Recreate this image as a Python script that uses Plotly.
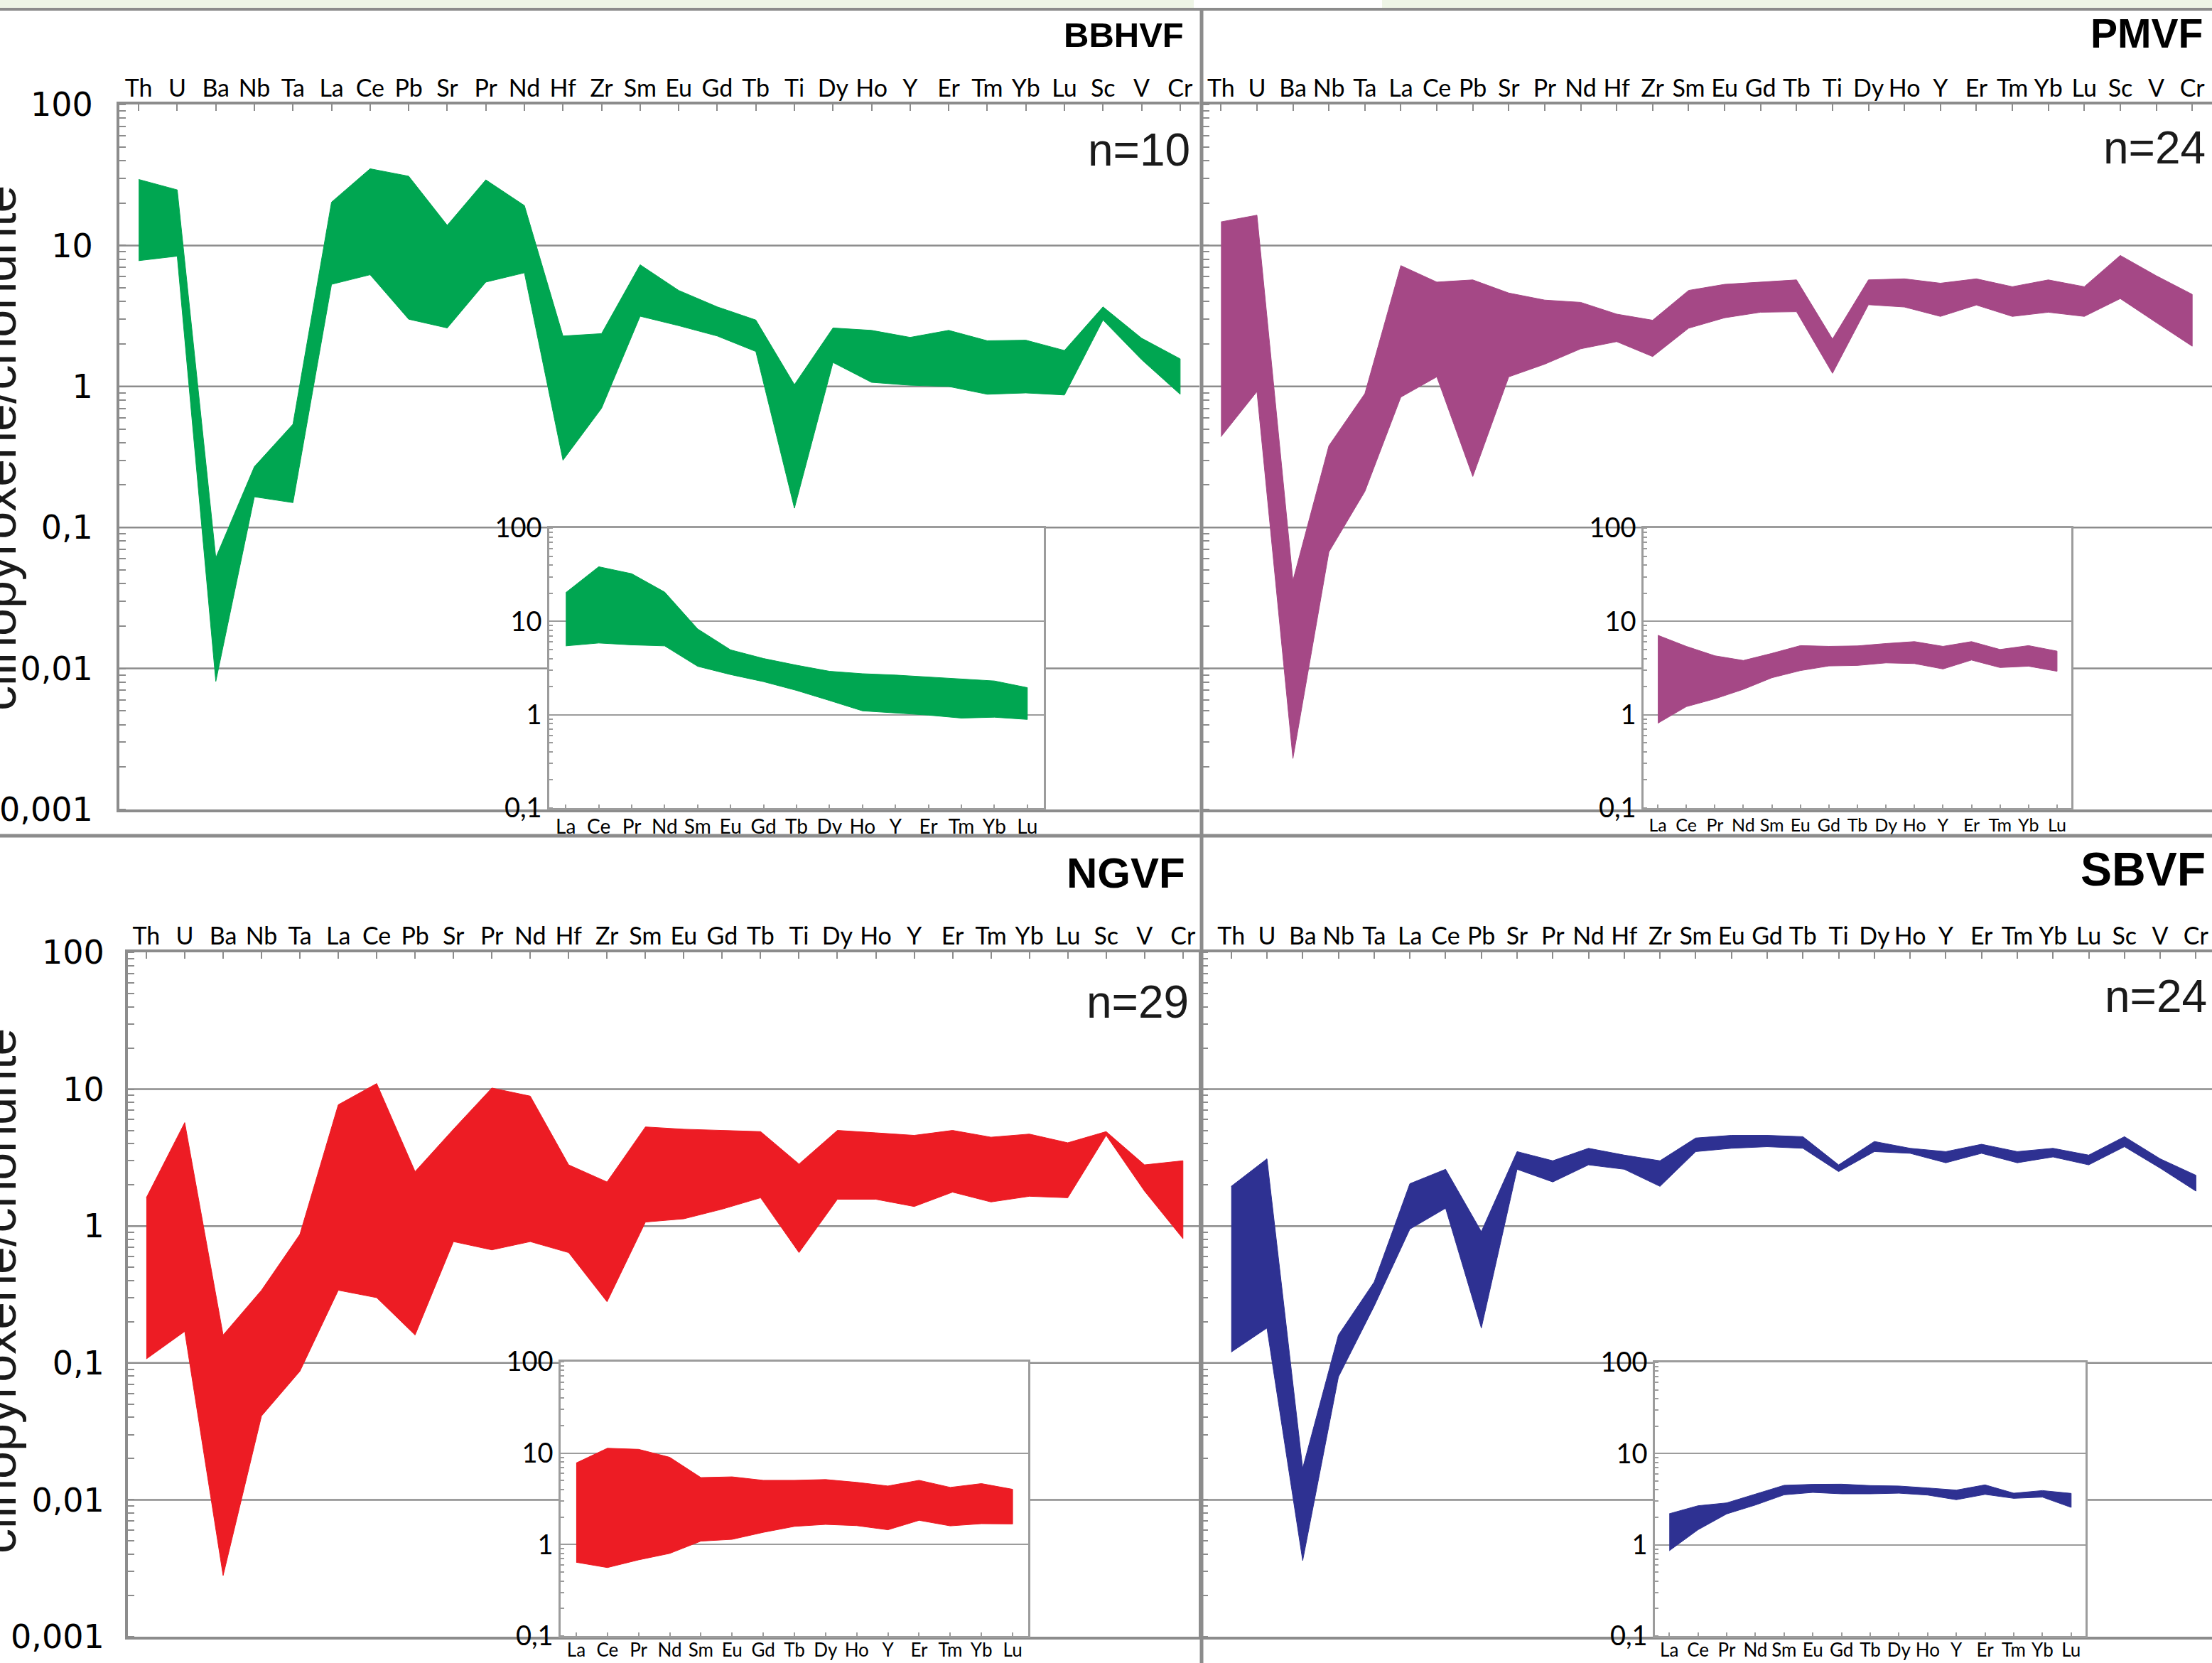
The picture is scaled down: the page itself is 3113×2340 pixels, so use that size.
import plotly.graph_objects as go

# ---------------- data ----------------
cats = ['Th', 'U', 'Ba', 'Nb', 'Ta', 'La', 'Ce', 'Pb', 'Sr', 'Pr', 'Nd', 'Hf', 'Zr', 'Sm',
        'Eu', 'Gd', 'Tb', 'Ti', 'Dy', 'Ho', 'Y', 'Er', 'Tm', 'Yb', 'Lu', 'Sc', 'V', 'Cr']
ree = ['La', 'Ce', 'Pr', 'Nd', 'Sm', 'Eu', 'Gd', 'Tb', 'Dy', 'Ho', 'Y', 'Er', 'Tm', 'Yb', 'Lu']

main_ticks = [0.001, 0.01, 0.1, 1, 10, 100]
main_ticktext = ['0,001', '0,01', '0,1', '1', '10', '100']
main_grid = [0.01, 0.1, 1, 10]
inset_ticks = [0.1, 1, 10, 100]
inset_ticktext = ['0,1', '1', '10', '100']

bbhvf_max = [29.4, 24.8, 0.061, 0.27, 0.54, 20.3, 35, 31, 13.9, 29.2, 19.2, 2.28, 2.37, 7.3,
             4.8, 3.67, 2.96, 1.03, 2.6, 2.5, 2.23, 2.5, 2.11, 2.13, 1.80, 3.67, 2.2, 1.57]
bbhvf_min = [7.8, 8.4, 0.0081, 0.165, 0.15, 5.3, 6.2, 3.0, 2.6, 5.5, 6.4, 0.30, 0.70, 3.15,
             2.7, 2.28, 1.77, 0.137, 1.48, 1.07, 1.02, 1.0, 0.88, 0.90, 0.87, 2.96, 1.55, 0.88]
pmvf_max = [14.7, 16.4, 0.042, 0.38, 0.89, 7.2, 5.5, 5.7, 4.6, 4.1, 3.95, 3.26, 2.95, 4.8,
            5.3, 5.5, 5.7, 2.17, 5.7, 5.8, 5.4, 5.8, 5.1, 5.7, 5.1, 8.5, 6.1, 4.5]
pmvf_min = [0.44, 0.92, 0.0023, 0.067, 0.18, 0.84, 1.17, 0.23, 1.17, 1.44, 1.85, 2.08, 1.63, 2.59,
            3.07, 3.36, 3.39, 1.24, 3.8, 3.66, 3.14, 3.78, 3.14, 3.36, 3.14, 4.2, 2.84, 1.93]
ngvf_max = [1.61, 5.7, 0.16, 0.34, 0.87, 7.7, 11, 2.5, 5.1, 10.2, 8.9, 2.8, 2.1, 5.3,
            5.1, 5.0, 4.9, 2.84, 5.0, 4.8, 4.6, 5.0, 4.46, 4.7, 4.06, 4.9, 2.8, 3.0]
ngvf_min = [0.107, 0.17, 0.0028, 0.041, 0.087, 0.34, 0.30, 0.16, 0.77, 0.67, 0.77, 0.64, 0.28, 1.07,
            1.13, 1.33, 1.61, 0.64, 1.57, 1.57, 1.39, 1.77, 1.5, 1.65, 1.61, 4.6, 1.8, 0.81]
sbvf_max = [1.95, 3.1, 0.017, 0.16, 0.39, 2.04, 2.6, 0.91, 3.5, 3.0, 3.7, 3.3, 3.0, 4.4,
            4.6, 4.6, 4.5, 2.8, 4.15, 3.7, 3.5, 3.96, 3.5, 3.7, 3.3, 4.5, 3.1, 2.35]
sbvf_min = [0.12, 0.18, 0.0036, 0.079, 0.26, 0.95, 1.35, 0.18, 2.6, 2.1, 2.8, 2.6, 1.95, 3.5,
            3.7, 3.8, 3.7, 2.5, 3.5, 3.4, 2.9, 3.4, 2.9, 3.2, 2.8, 3.8, 2.65, 1.8]

bbhvf_ree_max = [20.3, 38.5, 32.4, 20.6, 8.3, 4.95, 4.0, 3.39, 2.92, 2.75, 2.66, 2.54, 2.42, 2.3, 1.95]
bbhvf_ree_min = [5.46, 5.86, 5.6, 5.46, 3.3, 2.69, 2.26, 1.82, 1.42, 1.10, 1.05, 0.99, 0.92, 0.94, 0.89]
pmvf_ree_max = [7.1, 5.4, 4.28, 3.81, 4.54, 5.5, 5.4, 5.46, 5.79, 6.07, 5.4, 6.07, 5.0, 5.5, 4.8]
pmvf_ree_min = [0.81, 1.22, 1.48, 1.87, 2.49, 2.97, 3.33, 3.37, 3.59, 3.53, 3.09, 3.85, 3.2, 3.31, 2.92]
ngvf_ree_max = [7.8, 11.3, 11.0, 9.0, 5.4, 5.5, 5.04, 5.04, 5.14, 4.79, 4.37, 5.04, 4.22, 4.64, 4.02]
ngvf_ree_min = [0.64, 0.56, 0.68, 0.80, 1.09, 1.14, 1.36, 1.58, 1.66, 1.61, 1.45, 1.84, 1.6, 1.69, 1.68]
sbvf_ree_max = [2.19, 2.68, 2.88, 3.62, 4.49, 4.6, 4.62, 4.46, 4.41, 4.2, 3.98, 4.54, 3.68, 3.93, 3.66]
sbvf_ree_min = [0.86, 1.46, 2.18, 2.73, 3.53, 3.75, 3.62, 3.62, 3.68, 3.51, 3.12, 3.57, 3.23, 3.33, 2.57]

names = ['BBHVF', 'PMVF', 'NGVF', 'SBVF']
counts = ['n=10', 'n=24', 'n=29', 'n=24']
y_title = 'clinopyroxene/chondrite'

# ---------------- layout / style ----------------
W, H = 3113, 2340
GRAY = '#8c8c8c'
GRAY2 = '#9c9c9c'


def px_x(a, b):
    return [a / W, b / W]


def px_y(top, bottom):
    return [1 - bottom / H, 1 - top / H]


panels = [
    dict(vmax=bbhvf_max, vmin=bbhvf_min, rmax=bbhvf_ree_max, rmin=bbhvf_ree_min, color='#00A651',
         main_x=(168, 1688), main_y=(147, 1139), xr=[-0.5, 27.5],
         in_x=(773, 1469), in_y=(743, 1137), in_xfont=28, in_stand=0, ylab=True, standoff=24,
         t_right=1668, t_y=49, t_size=49, n_right=1677, n_y=211),
    dict(vmax=pmvf_max, vmin=pmvf_min, rmax=pmvf_ree_max, rmin=pmvf_ree_min, color='#A54886',
         main_x=(1693, 3113), main_y=(147, 1139), xr=[-0.5, 27.55],
         in_x=(2313, 2915), in_y=(743, 1137), in_xfont=25, in_stand=0, ylab=False, standoff=24,
         t_right=3102, t_y=47, t_size=57, n_right=3106, n_y=208),
    dict(vmax=ngvf_max, vmin=ngvf_min, rmax=ngvf_ree_max, rmin=ngvf_ree_min, color='#ED1C24',
         main_x=(180, 1688), main_y=(1340, 2303), xr=[-0.48, 27.43],
         in_x=(789, 1447), in_y=(1916, 2302), in_xfont=26, in_stand=-5, ylab=True, standoff=20,
         t_right=1670, t_y=1228, t_size=60, n_right=1675, n_y=1410),
    dict(vmax=sbvf_max, vmin=sbvf_min, rmax=sbvf_ree_max, rmin=sbvf_ree_min, color='#2E3192',
         main_x=(1691, 3113), main_y=(1340, 2303), xr=[-0.83, 27.45],
         in_x=(2329, 2935), in_y=(1917, 2302), in_xfont=26, in_stand=-5, ylab=False, standoff=20,
         t_right=3106, t_y=1223, t_size=66, n_right=3108, n_y=1402),
]

fig = go.Figure()
layout = {}
shapes = []
annotations = []

for i, p in enumerate(panels):
    m = i + 1
    k = i + 5
    xm = 'x' if m == 1 else f'x{m}'
    ym = 'y' if m == 1 else f'y{m}'
    xi, yi = f'x{k}', f'y{k}'
    c = p['color']

    fig.add_trace(go.Scatter(
        x=cats + cats[::-1], y=p['vmax'] + p['vmin'][::-1],
        fill='toself', fillcolor=c, line=dict(color=c, width=1), mode='lines',
        xaxis=xm, yaxis=ym, hoverinfo='skip', showlegend=False))
    fig.add_trace(go.Scatter(
        x=ree + ree[::-1], y=p['rmax'] + p['rmin'][::-1],
        fill='toself', fillcolor=c, line=dict(color=c, width=1), mode='lines',
        xaxis=xi, yaxis=yi, hoverinfo='skip', showlegend=False))

    kx = 'xaxis' if m == 1 else f'xaxis{m}'
    ky = 'yaxis' if m == 1 else f'yaxis{m}'
    layout[kx] = dict(
        domain=px_x(*p['main_x']), anchor=ym, type='category', categoryorder='array',
        categoryarray=cats, range=p['xr'], side='top', showline=True, linecolor=GRAY,
        linewidth=4, mirror=True, ticks='inside', ticklen=9, tickwidth=2, tickcolor=GRAY,
        ticklabelstandoff=-7,
        tickfont=dict(family='Lato', size=34, color='black'), showgrid=False, zeroline=False,
        automargin=False)
    layout[ky] = dict(
        domain=px_y(*p['main_y']), anchor=xm, type='log', range=[-3, 2],
        tickmode='array', tickvals=main_ticks, ticktext=main_ticktext,
        showticklabels=p['ylab'], ticklabelstandoff=p['standoff'],
        tickfont=dict(family='DejaVu Sans', size=46, color='black'), ticks='',
        showgrid=False, showline=True, linecolor=GRAY,
        linewidth=4, zeroline=False, automargin=False,
        minor=dict(ticks='inside', ticklen=9, tickwidth=2, tickcolor=GRAY, dtick='D1',
                   showgrid=False))
    layout[f'xaxis{k}'] = dict(
        domain=px_x(*p['in_x']), anchor=yi, type='category', categoryorder='array',
        categoryarray=ree, range=[-0.5, 14.5], side='bottom', showline=True,
        linecolor=GRAY2, linewidth=2.5, mirror=True, ticks='inside', ticklen=5,
        tickwidth=2, tickcolor=GRAY2, ticklabelstandoff=p['in_stand'],
        tickfont=dict(family='Lato', size=p['in_xfont'], color='black'),
        showgrid=False, zeroline=False, automargin=False)
    layout[f'yaxis{k}'] = dict(
        domain=px_y(*p['in_y']), anchor=xi, type='log', range=[-1, 2],
        tickmode='array', tickvals=inset_ticks, ticktext=inset_ticktext,
        tickfont=dict(family='Lato', size=38, color='black'), ticks='',
        showgrid=True, gridcolor=GRAY2, gridwidth=2, showline=True, linecolor=GRAY2,
        linewidth=2.5, mirror=True, zeroline=False, automargin=False,
        minor=dict(ticks='inside', ticklen=5, tickwidth=2, tickcolor=GRAY2, dtick='D1',
                   showgrid=False))

    # main grid lines (interrupted behind the inset); y given as data values on the log axis
    mx0, mx1 = p['main_x']
    my0, my1 = p['main_y']
    ix0, ix1 = p['in_x']
    iy0, iy1 = p['in_y']
    v_top = 10 ** (2 - 5 * (iy0 - my0) / (my1 - my0))
    v_bot = 10 ** (2 - 5 * (iy1 - my0) / (my1 - my0))
    for v in main_grid:
        if v_bot * 1.2 < v < v_top / 1.2:
            segs = [(mx0, ix0), (ix1, mx1)]
        else:
            segs = [(mx0, mx1)]
        for a, b in segs:
            shapes.append(dict(type='line', xref='paper', yref=ym, x0=a / W, x1=b / W,
                               y0=v, y1=v, line=dict(color=GRAY, width=2.5), layer='below'))

    annotations.append(dict(
        text=f'<b>{names[i]}</b>', xref='paper', yref='paper',
        x=p['t_right'] / W, y=1 - p['t_y'] / H, xanchor='right', yanchor='middle',
        showarrow=False, font=dict(family='Liberation Sans', size=p['t_size'], color='black')))
    annotations.append(dict(
        text=counts[i], xref='paper', yref='paper',
        x=p['n_right'] / W, y=1 - p['n_y'] / H, xanchor='right', yanchor='middle',
        showarrow=False, font=dict(family='Liberation Sans', size=64, color='#1a1a1a')))

for cy in (631, 1817):
    annotations.append(dict(
        text=y_title, xref='paper', yref='paper', x=-2 / W, y=1 - cy / H,
        xanchor='center', yanchor='middle', textangle=-90, showarrow=False,
        font=dict(family='Liberation Sans', size=70, color='#1a1a1a')))

# panel frame lines and top strip
shapes += [
    dict(type='rect', xref='paper', yref='paper', x0=0, x1=1680 / W, y0=1 - 11 / H, y1=1,
         fillcolor='#eef5e6', line=dict(width=0), layer='below'),
    dict(type='rect', xref='paper', yref='paper', x0=1945 / W, x1=1, y0=1 - 11 / H, y1=1,
         fillcolor='#eef5e6', line=dict(width=0), layer='below'),
    dict(type='line', xref='paper', yref='paper', x0=0, x1=1, y0=1 - 13 / H, y1=1 - 13 / H,
         line=dict(color=GRAY, width=4), layer='above'),
    dict(type='line', xref='paper', yref='paper', x0=1691 / W, x1=1691 / W, y0=0, y1=1 - 13 / H,
         line=dict(color=GRAY, width=5), layer='above'),
    dict(type='line', xref='paper', yref='paper', x0=0, x1=1, y0=1 - 1176 / H, y1=1 - 1176 / H,
         line=dict(color=GRAY, width=5), layer='above'),
]

fig.update_layout(
    width=W, height=H, autosize=False,
    margin=dict(l=0, r=0, t=0, b=0, pad=0, autoexpand=False),
    paper_bgcolor='white', plot_bgcolor='white', showlegend=False,
    shapes=shapes, annotations=annotations, **layout)

fig.write_html("out.html", config={'displayModeBar': False, 'responsive': False},
               post_script="document.body.style.margin='0';")
